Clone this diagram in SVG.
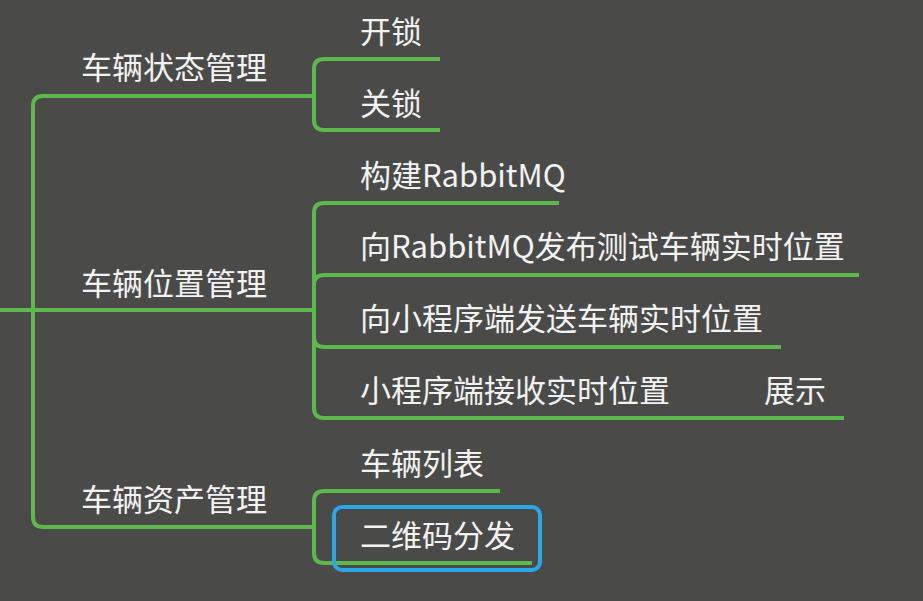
<svg xmlns="http://www.w3.org/2000/svg" width="923" height="601" viewBox="0 0 923 601">
<style>
.ln{fill:none;stroke:#5db94b;stroke-width:4;stroke-linecap:butt}
.t{font-family:"Noto Sans CJK SC","Noto Sans",sans-serif;font-size:31px;fill:#f2f2f2}
</style>
<rect width="923" height="601" fill="#4a4b49"/>
<g id="connectors">
<path class="ln" d="M0 310 H313"/>
<path class="ln" d="M313 96 H43 Q33 96 33 106 V517 Q33 527 43 527 H313"/>
<path class="ln" d="M440 59 H324 Q314 59 314 69 V120 Q314 130 324 130 H440"/>
<path class="ln" d="M559 203 H324 Q314 203 314 213 V408 Q314 418 324 418 H844"/>
<path class="ln" d="M314 285 Q314 275 324 275 H859"/>
<path class="ln" d="M314 337 Q314 347 324 347 H781"/>
<path class="ln" d="M500 491 H324 Q314 491 314 501 V553 Q314 563 324 563 H532"/>
</g>
<g id="n-status"><text class="t" x="81" y="79">车辆状态管理</text></g>
<g id="n-unlock"><text class="t" x="360" y="43">开锁</text></g>
<g id="n-lock"><text class="t" x="360" y="115">关锁</text></g>
<g id="n-position"><text class="t" x="81" y="295">车辆位置管理</text></g>
<g id="n-build"><text class="t" x="360" y="187">构建RabbitMQ</text></g>
<g id="n-publish"><text class="t" x="360" y="258">向RabbitMQ发布测试车辆实时位置</text></g>
<g id="n-send"><text class="t" x="360" y="330">向小程序端发送车辆实时位置</text></g>
<g id="n-receive"><text class="t" x="360" y="402">小程序端接收实时位置</text><text class="t" x="764" y="402">展示</text></g>
<g id="n-asset"><text class="t" x="81" y="511">车辆资产管理</text></g>
<g id="n-list"><text class="t" x="360" y="475">车辆列表</text></g>
<g id="n-qr"><text class="t" x="360" y="547">二维码分发</text>
<rect x="334" y="507" width="206" height="63" rx="8" fill="none" stroke="#2aa7e6" stroke-width="4"/></g>
</svg>
